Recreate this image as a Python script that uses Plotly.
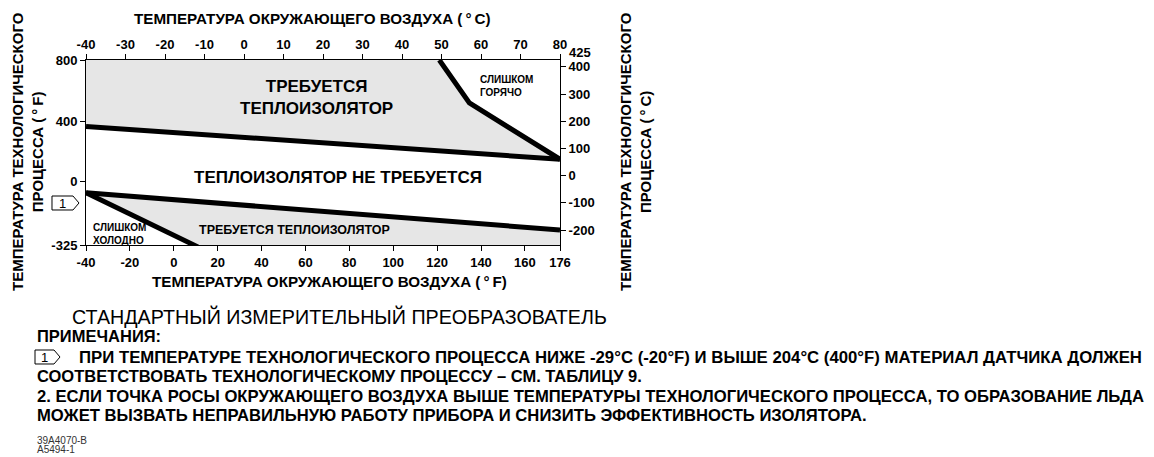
import numpy as np
import plotly.graph_objects as go

# ---------------- data ----------------
# x in ambient °F, y in process °C (right axis scale)
X_F_TICKS = [-40, -20, 0, 20, 40, 60, 80, 100, 120, 140, 160, 176]
X_C_TICKS = [-40, -30, -20, -10, 0, 10, 20, 30, 40, 50, 60, 70, 80]
Y_C_TICKS = [400, 300, 200, 100, 0, -100, -200]
Y_F_LABELS = ["800", "400", "0", "-325"]
Y_F_POS = [425, 200, -22, -255]          # where the °F labels sit on the °C scale

X_RANGE = [-40, 176]
Y_RANGE = [-255, 425]

upper_x = [-40, 176]          # insulation-required upper boundary
upper_y = [181, 60]
hot_x = [121, 134.7, 176]     # too-hot boundary
hot_y = [425, 267, 60]
lower_x = [-40, 176]          # insulation-required lower boundary
lower_y = [-63, -200]
cold_x = [-40, 11]            # too-cold boundary
cold_y = [-63, -262]

FONT = "Liberation Sans, Arial, sans-serif"
OFF = 8                         # page body margin
W, H = 1154 - OFF, 457 - OFF
L, R, T, B = 86, 560, 60, 245   # plot area in window pixels
DEG = "\u2009°\u2009"


def px(x):
    return (x - L) / (R - L)


def py(y):
    return (B - y) / (B - T)


fig = go.Figure()

# shaded upper region
ux = [X_RANGE[0]] + hot_x + [upper_x[0]]
uy = [Y_RANGE[1]] + hot_y + [upper_y[0]]
fig.add_trace(go.Scatter(x=ux, y=uy, fill="toself", fillcolor="#e6e6e6",
                         line=dict(width=0), mode="lines", hoverinfo="skip"))

# shaded lower region
cold_bottom_x = float(np.interp(Y_RANGE[0], cold_y[::-1], cold_x[::-1]))
lx = lower_x + [X_RANGE[1], cold_bottom_x, cold_x[0]]
ly = lower_y + [Y_RANGE[0], Y_RANGE[0], cold_y[0]]
fig.add_trace(go.Scatter(x=lx, y=ly, fill="toself", fillcolor="#e6e6e6",
                         line=dict(width=0), mode="lines", hoverinfo="skip"))

for xs, ys in [(upper_x, upper_y), (hot_x, hot_y), (lower_x, lower_y), (cold_x, cold_y)]:
    fig.add_trace(go.Scatter(x=xs, y=ys, mode="lines",
                             line=dict(color="black", width=5), hoverinfo="skip"))

# dummy trace for overlay axes
fig.add_trace(go.Scatter(x=[None], y=[None], xaxis="x2", yaxis="y2", showlegend=False))

tickfont = dict(family=FONT, size=13, color="black", weight="bold")
axis_common = dict(showgrid=False, zeroline=False, showline=True, linecolor="black",
                   linewidth=1, ticks="outside", ticklen=5, tickcolor="black",
                   tickwidth=1, tickfont=tickfont)


def lab(v):
    return [str(t) for t in v]


fig.update_layout(
    width=W, height=H,
    margin=dict(l=L - OFF, r=W - (R - OFF), t=T - OFF, b=H - (B - OFF), pad=0),
    plot_bgcolor="white", paper_bgcolor="white", showlegend=False,
    xaxis=dict(range=X_RANGE, tickvals=X_F_TICKS, ticktext=lab(X_F_TICKS), side="bottom", **axis_common),
    xaxis2=dict(range=[-40, 80], tickvals=X_C_TICKS, ticktext=lab(X_C_TICKS), side="top",
                overlaying="x", **axis_common),
    yaxis=dict(range=Y_RANGE, tickvals=Y_C_TICKS, ticktext=lab(Y_C_TICKS), side="right", **axis_common),
    yaxis2=dict(range=Y_RANGE, tickvals=Y_F_POS, ticktext=Y_F_LABELS, side="left",
                overlaying="y", **axis_common),
)

ann = []


def text(x, y, s, size, bold=True, xanchor="center", angle=0, align="center", color="black"):
    ann.append(dict(x=px(x), y=py(y), xref="paper", yref="paper", text=s, showarrow=False,
                    xanchor=xanchor, yanchor="middle", textangle=angle, align=align,
                    font=dict(family=FONT, size=size, color=color,
                              weight="bold" if bold else "normal")))


# axis titles
text(312, 18, f"ТЕМПЕРАТУРА ОКРУЖАЮЩЕГО ВОЗДУХА ({DEG}C)", 15.2)
text(329, 281, f"ТЕМПЕРАТУРА ОКРУЖАЮЩЕГО ВОЗДУХА ({DEG}F)", 15.2)
text(27, 152, f"ТЕМПЕРАТУРА ТЕХНОЛОГИЧЕСКОГО<br>ПРОЦЕССА ({DEG}F)", 15, angle=-90)
text(635, 152, f"ТЕМПЕРАТУРА ТЕХНОЛОГИЧЕСКОГО<br>ПРОЦЕССА ({DEG}C)", 15, angle=-90)
text(567, 53, "425", 13, xanchor="left")

# region labels
text(316, 97, "ТРЕБУЕТСЯ<br>ТЕПЛОИЗОЛЯТОР", 17)
text(338, 177, "ТЕПЛОИЗОЛЯТОР НЕ ТРЕБУЕТСЯ", 17)
text(294, 230, "ТРЕБУЕТСЯ ТЕПЛОИЗОЛЯТОР", 12.5)
text(91, 234, "СЛИШКОМ<br>ХОЛОДНО", 10, xanchor="left", align="left")
text(478, 86, "СЛИШКОМ<br>ГОРЯЧО", 10, xanchor="left", align="left")
text(62.5, 203, "1", 13, bold=False)

# notes
text(70, 316, "СТАНДАРТНЫЙ ИЗМЕРИТЕЛЬНЫЙ ПРЕОБРАЗОВАТЕЛЬ", 19.7, bold=False, xanchor="left")
text(35, 336, "ПРИМЕЧАНИЯ:", 16.5, xanchor="left")
text(44.5, 357, "1", 13, bold=False)
text(77, 357, "ПРИ ТЕМПЕРАТУРЕ ТЕХНОЛОГИЧЕСКОГО ПРОЦЕССА НИЖЕ -29°C (-20°F) И ВЫШЕ 204°C (400°F) МАТЕРИАЛ ДАТЧИКА ДОЛЖЕН", 16.75, xanchor="left")
text(35, 376, "СООТВЕТСТВОВАТЬ ТЕХНОЛОГИЧЕСКОМУ ПРОЦЕССУ – СМ. ТАБЛИЦУ 9.", 16.5, xanchor="left")
text(35, 396, "2. ЕСЛИ ТОЧКА РОСЫ ОКРУЖАЮЩЕГО ВОЗДУХА ВЫШЕ ТЕМПЕРАТУРЫ ТЕХНОЛОГИЧЕСКОГО ПРОЦЕССА, ТО ОБРАЗОВАНИЕ ЛЬДА", 16.65, xanchor="left")
text(35, 415, "МОЖЕТ ВЫЗВАТЬ НЕПРАВИЛЬНУЮ РАБОТУ ПРИБОРА И СНИЗИТЬ ЭФФЕКТИВНОСТЬ ИЗОЛЯТОРА.", 16.65, xanchor="left")
text(35, 440, "39A4070-B", 10, bold=False, xanchor="left", color="#333333")
text(35, 450, "A5494-1", 10, bold=False, xanchor="left", color="#333333")

fig.update_layout(annotations=ann)


def pent(x0, x1, xt, y0, y1):
    ym = (y0 + y1) / 2
    pts = [(x0, y0), (x1, y0), (xt, ym), (x1, y1), (x0, y1)]
    d = "M " + " L ".join(f"{px(a):.5f},{py(b):.5f}" for a, b in pts) + " Z"
    return dict(type="path", path=d, xref="paper", yref="paper",
                line=dict(color="black", width=1), fillcolor="white", layer="above")


fig.update_layout(shapes=[pent(52, 73, 79, 196, 210), pent(35, 54, 60, 350, 364)])

fig.write_html("out.html")
